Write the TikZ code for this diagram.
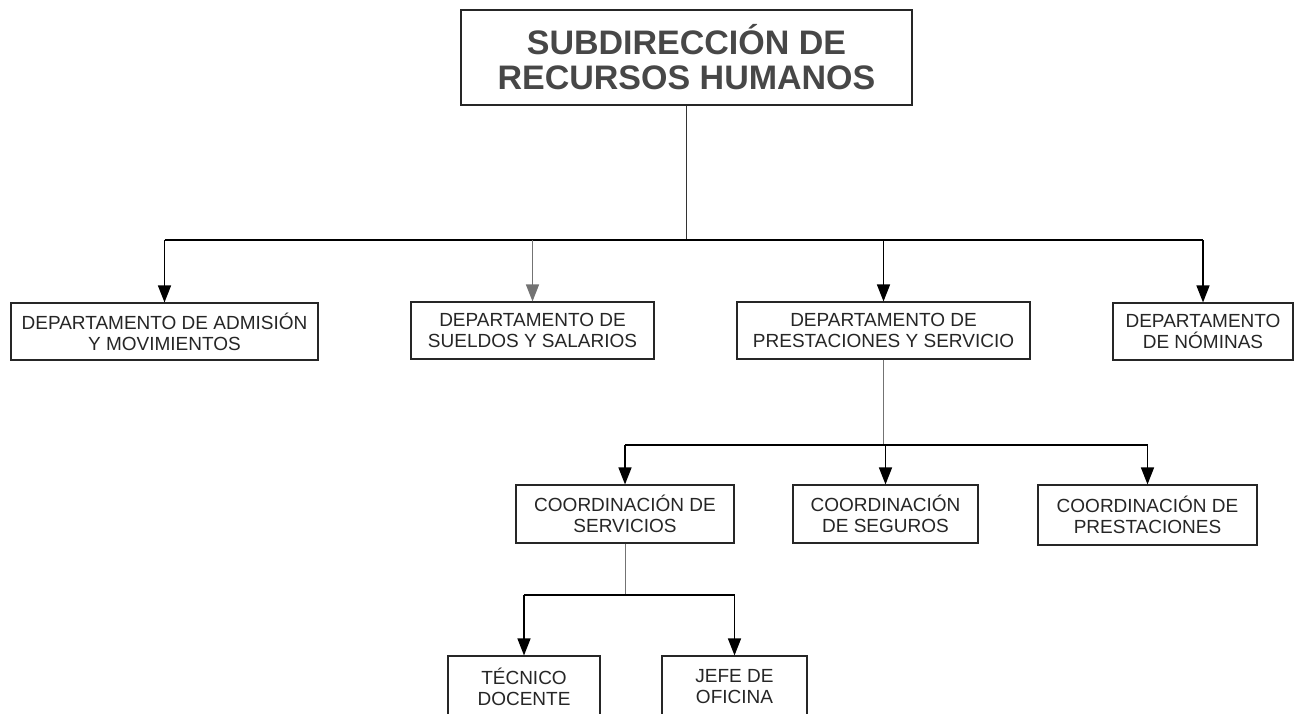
\documentclass[tikz,border=0pt]{standalone}
\usepackage{fontspec}
\setmainfont{Liberation Sans}
\usetikzlibrary{arrows.meta}
\begin{document}
\begin{tikzpicture}[x=1pt,y=-1pt,
  box/.style={draw=black!85,line width=1.1pt,fill=white,align=center,inner sep=0pt,
    font=\fontsize{19}{21}\selectfont,text=black!85},
  titlebox/.style={draw=black!85,line width=1.1pt,align=center,inner sep=0pt,
    font=\fontsize{34}{35}\selectfont\bfseries,text=black!72},
  bus/.style={line width=1.4pt,draw=black},
  stem/.style={line width=0.9pt,draw=black!55},
  arr/.style={line width=1.4pt,draw=black,-{Triangle[length=17pt,width=13pt]}},
  grayarr/.style={line width=1.4pt,draw=black!55,-{Triangle[length=17pt,width=13pt]}}
]
\useasboundingbox (0,0) rectangle (1295,714);
\clip (0,0) rectangle (1295,714);

\node[titlebox,minimum width=451pt,minimum height=95pt] (top) at (686.5,57.5)
  {SUBDIRECCIÓN DE\\RECURSOS HUMANOS};

\node[box,minimum width=307pt,minimum height=57pt] (b1) at (164.5,331.5)
  {DEPARTAMENTO DE ADMISIÓN\\Y MOVIMIENTOS};
\node[box,minimum width=243pt,minimum height=57pt] (b2) at (532.5,330.5)
  {DEPARTAMENTO DE\\SUELDOS Y SALARIOS};
\node[box,minimum width=293pt,minimum height=57pt] (b3) at (883.5,330.5)
  {DEPARTAMENTO DE\\PRESTACIONES Y SERVICIO};
\node[box,minimum width=180pt,minimum height=57pt] (b4) at (1203,331.5)
  {DEPARTAMENTO\\DE NÓMINAS};

\node[box,minimum width=218pt,minimum height=58pt] (cs) at (625,514)
  {COORDINACIÓN DE\\SERVICIOS};
\node[box,minimum width=185pt,minimum height=58pt] (cseg) at (885.5,514)
  {COORDINACIÓN\\DE SEGUROS};
\node[box,minimum width=219pt,minimum height=60pt] (cp) at (1147.5,515)
  {COORDINACIÓN DE\\PRESTACIONES};

\node[box,minimum width=152pt,minimum height=62pt] (td) at (524,687)
  {TÉCNICO\\DOCENTE};
\node[box,minimum width=145pt,minimum height=62pt] (jo) at (734.5,687)
  {JEFE DE\\OFICINA};

\coordinate (bus1) at (686.5,240);
\coordinate (bus2) at (883.5,445);
\coordinate (bus3) at (625,595);

% level 1
\draw[stem,draw=black!80] (top.south) -- (bus1);
\draw[bus] (b1.north |- bus1) -- (b4.north |- bus1);
\draw[arr] (b1.north |- bus1) -- (b1.north);
\draw[grayarr] (b2.north |- bus1) -- (b2.north);
\draw[arr] (b3.north |- bus1) -- (b3.north);
\draw[arr] (b4.north |- bus1) -- (b4.north);

% level 2
\draw[stem] (b3.south) -- (bus2);
\draw[bus] (cs.north |- bus2) -- (cp.north |- bus2);
\draw[arr] (cs.north |- bus2) -- (cs.north);
\draw[arr] (cseg.north |- bus2) -- (cseg.north);
\draw[arr] (cp.north |- bus2) -- (cp.north);

% level 3
\draw[stem] (cs.south) -- (bus3);
\draw[bus] (td.north |- bus3) -- (jo.north |- bus3);
\draw[arr] (td.north |- bus3) -- (td.north);
\draw[arr] (jo.north |- bus3) -- (jo.north);
\end{tikzpicture}
\end{document}
